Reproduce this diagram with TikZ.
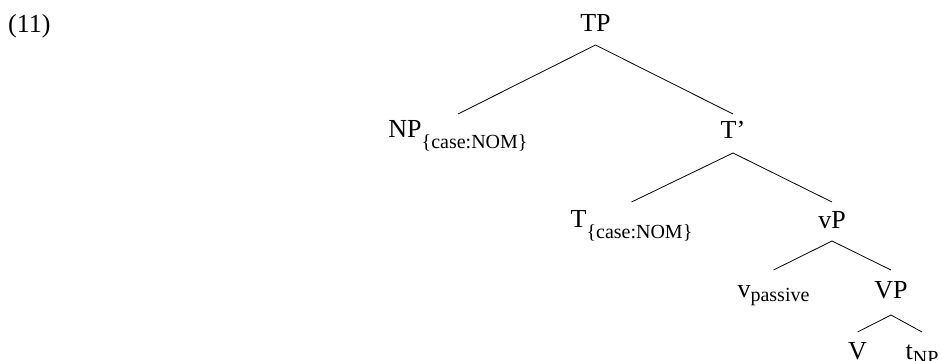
\documentclass[tikz,border=0pt]{standalone}
\usepackage{fontspec}
\setmainfont{Liberation Serif}
\newcommand{\lowsub}[2][5pt]{\raisebox{-#1}{\fontsize{20}{20}\selectfont #2}}
\tikzset{
  lbl/.style={inner sep=0pt, anchor=base, font=\fontsize{26}{30}\selectfont},
  branch/.style={line width=0.8pt}
}
\begin{document}
\begin{tikzpicture}[x=1pt, y=-1pt]
            \useasboundingbox (0,0) rectangle (942,360);
            \node[lbl, anchor=base west] (ex) at (8,32) {(11)};

            \node[lbl] (TP) at (595.5,31) {TP};
            \node[lbl] (NP) at (458,137) {NP\lowsub[11pt]{\{case:NOM\}}};
            \node[lbl] (Tbar) at (733,138) {T'};
            \node[lbl] (T) at (631.5,227) {T\lowsub[11pt]{\{case:NOM\}}};
            \node[lbl] (vP) at (832,228) {vP};
            \node[lbl] (v) at (773.5,297) {v\lowsub[4pt]{passive}};
            \node[lbl] (VP) at (891,298) {VP};
            \node[lbl] (V) at (857.5,359) {V};
            \node[lbl] (t) at (922,359) {t\lowsub{NP}};

            \draw[branch] ([yshift=-14pt]TP.base) -- ([yshift=23pt]NP.base);
            \draw[branch] ([yshift=-14pt]TP.base) -- ([yshift=24pt]Tbar.base);
            \draw[branch] ([yshift=-15pt]Tbar.base) -- ([yshift=25pt]T.base);
            \draw[branch] ([yshift=-15pt]Tbar.base) -- ([yshift=26pt]vP.base);
            \draw[branch] ([yshift=-13pt]vP.base) -- ([yshift=27pt]v.base);
            \draw[branch] ([yshift=-13pt]vP.base) -- ([yshift=28pt]VP.base);
            \draw[branch] ([yshift=-17pt]VP.base) -- ([yshift=27pt]V.base);
            \draw[branch] ([yshift=-17pt]VP.base) -- ([yshift=27pt]t.base);
        \end{tikzpicture}
\end{document}
